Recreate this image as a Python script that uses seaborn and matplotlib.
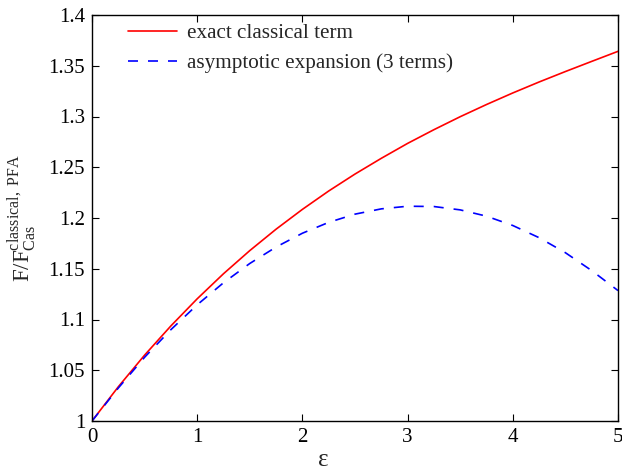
import numpy as np
import pandas as pd
import matplotlib
matplotlib.use("Agg")
import matplotlib.pyplot as plt
from matplotlib.lines import Line2D
import seaborn as sns

# values
eps = [0.0, 0.25, 0.5, 0.75, 1.0, 1.25, 1.5, 1.75, 2.0, 2.25, 2.5,
       2.75, 3.0, 3.25, 3.5, 3.75, 4.0, 4.25, 4.5, 4.75, 5.0]
exact = [1.0000, 1.0337, 1.0649, 1.0937, 1.1204, 1.1451, 1.1679, 1.1890,
         1.2085, 1.2266, 1.2433, 1.2588, 1.2735, 1.2870, 1.2998, 1.3118,
         1.3232, 1.3340, 1.3443, 1.3543, 1.3642]
asym = [1.0000, 1.0325, 1.0628, 1.0900, 1.1145, 1.1362, 1.1552, 1.1714,
        1.1850, 1.1957, 1.2038, 1.2090, 1.2116, 1.2113, 1.2080, 1.2018,
        1.1926, 1.1806, 1.1658, 1.1482, 1.1285]
labels = ["exact classical term", "asymptotic expansion (3 terms)"]
xticks = [0, 1, 2, 3, 4, 5]
yticks = [1, 1.05, 1.1, 1.15, 1.2, 1.25, 1.3, 1.35, 1.4]
yticklabels = ["1", "1.05", "1.1", "1.15", "1.2", "1.25", "1.3", "1.35", "1.4"]

df = pd.DataFrame({"eps": eps * 2,
                   "val": exact + asym,
                   "series": [labels[0]] * len(eps) + [labels[1]] * len(eps)})

sns.set_style("ticks")
plt.rcParams["font.family"] = ["Liberation Serif", "DejaVu Serif"]
plt.rcParams["mathtext.fontset"] = "custom"
plt.rcParams["mathtext.rm"] = "Liberation Serif"
plt.rcParams["mathtext.it"] = "Liberation Serif:italic"

fig = plt.figure(figsize=(6.22, 4.72), dpi=100)
ax = fig.add_axes([92/622, 1-421/472, (618-92)/622, (421-15)/472])

sns.lineplot(data=df, x="eps", y="val", hue="series", style="series",
             palette={labels[0]: "#ff0000", labels[1]: "#0000ff"},
             dashes={labels[0]: "", labels[1]: (6, 6)},
             linewidth=1.2, ax=ax, legend=False, estimator=None)

ax.set_xlim(0, 5)
ax.set_ylim(1, 1.4)
ax.set_xticks(xticks)
ax.set_xticklabels([str(t) for t in xticks])
ax.set_yticks(yticks)
ax.set_yticklabels(yticklabels)
ax.tick_params(direction="in", length=5, width=0.8, top=True, right=True,
               labelsize=15, colors="black", pad=5)
for s in ax.spines.values():
    s.set_linewidth(1.0)
    s.set_color("black")

ax.set_xlabel("ε", fontsize=18)
ax.xaxis.set_label_coords((323-92)/526, -0.07)
ax.set_ylabel(r"F/F$_{\rm Cas}^{\rm classical,\ PFA}$", fontsize=16.5)
ax.yaxis.set_label_coords((38-92)/526, 0.50)

handles = [Line2D([], [], color="#ff0000", lw=1.2),
           Line2D([], [], color="#0000ff", lw=1.2, dashes=(6, 6))]
ax.legend(handles, labels, loc="upper left", frameon=False, fontsize=15.2,
          handlelength=2.3, handletextpad=0.48, labelspacing=0.5,
          borderaxespad=0, borderpad=0, bbox_to_anchor=(36/526, 0.98))

fig.savefig("out.png", dpi=100)
